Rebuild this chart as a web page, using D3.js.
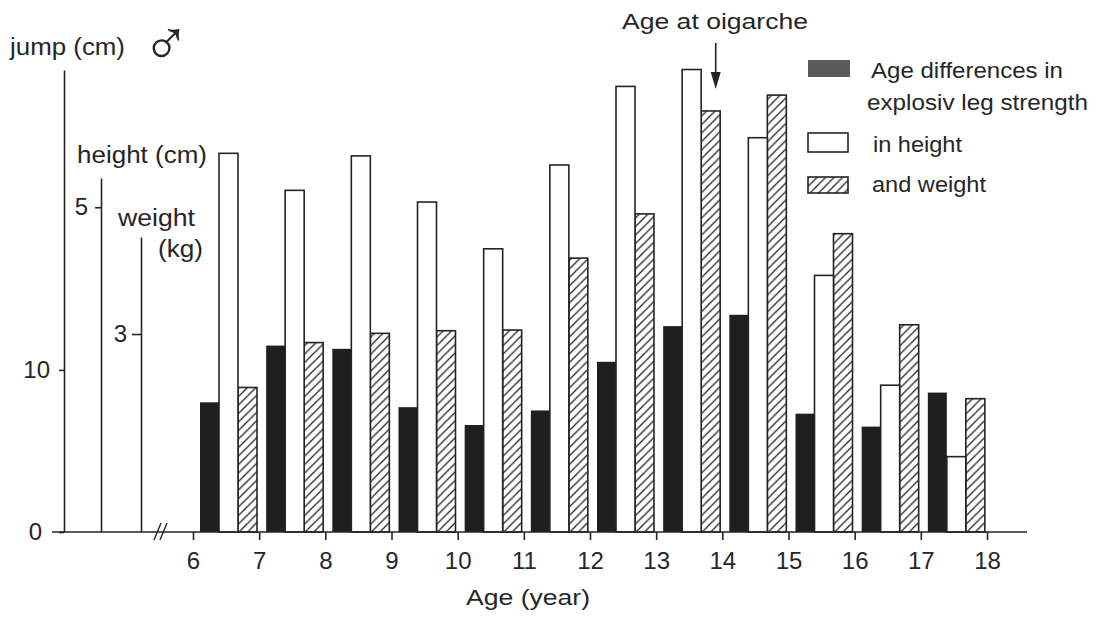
<!DOCTYPE html>
<html>
<head>
<meta charset="utf-8">
<script src="https://cdn.jsdelivr.net/npm/d3@7"></script>
<style>
  html, body { margin: 0; padding: 0; background: #ffffff; }
  svg { display: block; }
  text { font-family: "Liberation Sans", Arial, Helvetica, sans-serif; fill: #262626; }
</style>
</head>
<body>
<svg id="chart" width="1102" height="619"></svg>
<script>
// ---- Data ----
const ageStarts   = [6, 7, 8, 9, 10, 11, 12, 13, 14, 15, 16, 17];   // each bar group spans [age, age+1]
const ageTicks    = [6, 7, 8, 9, 10, 11, 12, 13, 14, 15, 16, 17, 18];
const jumpDiff    = [8.0, 11.5, 11.3, 7.7, 6.6, 7.5, 10.5, 12.7, 13.4, 7.3, 6.5, 8.6];      // cm
const heightDiff  = [5.83, 5.26, 5.79, 5.08, 4.36, 5.65, 6.86, 7.12, 6.07, 3.95, 2.26, 1.16]; // cm
const weightDiff  = [2.19, 2.87, 3.01, 3.05, 3.06, 4.15, 4.82, 6.38, 6.62, 4.52, 3.14, 2.02]; // kg
const jumpTicks   = [0, 10];
const heightTicks = [5];
const weightTicks = [3];
const seriesKeys  = ["jump", "height", "weight"];
const legendLabels = [["Age differences in", "explosiv leg strength"], ["in height"], ["and weight"]];
const oigarcheAge = 13.9;

// ---- Layout ----
const svg = d3.select("#chart");
const baseY = 532;
const ink = "#242424";

const x = d3.scaleLinear().domain([6, 18]).range([193, 987]);
const xSub = d3.scaleBand().domain(seriesKeys).range([7, 64]);

const yJump   = d3.scaleLinear().domain([0, 28.5]).range([baseY, 70]);
const yHeight = d3.scaleLinear().domain([0, 5.45]).range([baseY, 178]);
const yWeight = d3.scaleLinear().domain([0, 4.47]).range([baseY, 237]);
const yOf = { jump: yJump, height: yHeight, weight: yWeight };

// hatch pattern
const defs = svg.append("defs");
const pat = defs.append("pattern")
  .attr("id", "hatch").attr("patternUnits", "userSpaceOnUse")
  .attr("width", 8.5).attr("height", 8.5);
pat.append("rect").attr("width", 8.5).attr("height", 8.5).attr("fill", "#fff");
pat.append("path")
  .attr("d", "M-2,2 L2,-2 M0,8.5 L8.5,0 M6.5,10.5 L10.5,6.5")
  .attr("stroke", ink).attr("stroke-width", 1.3);

const fills = { jump: "#1f1f1f", height: "#ffffff", weight: "url(#hatch)" };

// ---- Bars ----
const rows = ageStarts.map((a, i) => ({ age: a, jump: jumpDiff[i], height: heightDiff[i], weight: weightDiff[i] }));
const groups = svg.append("g").selectAll("g").data(rows).join("g")
  .attr("transform", d => `translate(${x(d.age)},0)`);

["jump", "weight", "height"].forEach(k => {
  groups.append("rect")
    .attr("x", xSub(k))
    .attr("width", xSub.bandwidth())
    .attr("y", d => yOf[k](d[k]))
    .attr("height", d => baseY - yOf[k](d[k]))
    .attr("fill", fills[k])
    .attr("stroke", k === "jump" ? "none" : ink)
    .attr("stroke-width", 1.6);
});

// ---- Axes ----
function styleAxis(g) {
  g.attr("font-size", 24).attr("font-family", "Liberation Sans, Arial, sans-serif");
  g.selectAll("path,line").attr("stroke", ink).attr("stroke-width", 1.6);
  g.selectAll("text").attr("font-size", 24).attr("fill", "#262626");
}
const fmt = d3.format("d");

const jAxis = svg.append("g").attr("transform", "translate(64,0)")
  .call(d3.axisLeft(yJump).tickValues(jumpTicks).tickSize(5).tickSizeOuter(0).tickPadding(9).tickFormat(fmt))
  .call(styleAxis);
jAxis.selectAll(".tick text").filter(d => d === 0).attr("x", -22);

svg.append("g").attr("transform", "translate(101,0)")
  .call(d3.axisLeft(yHeight).tickValues(heightTicks).tickSize(6).tickSizeOuter(0).tickPadding(7).tickFormat(fmt))
  .call(styleAxis);

svg.append("g").attr("transform", "translate(141,0)")
  .call(d3.axisLeft(yWeight).tickValues(weightTicks).tickSize(9).tickSizeOuter(0).tickPadding(5).tickFormat(fmt))
  .call(styleAxis);

const xAxis = svg.append("g").attr("transform", `translate(0,${baseY})`)
  .call(d3.axisBottom(x).tickValues(ageTicks).tickSize(8).tickPadding(12).tickFormat(fmt))
  .call(styleAxis);
xAxis.select(".domain").remove();

// baseline with axis break
svg.append("line").attr("x1", 52).attr("x2", 1027).attr("y1", baseY).attr("y2", baseY)
  .attr("stroke", ink).attr("stroke-width", 1.6);
svg.append("path").attr("d", "M154,540 L161,523 M160,540 L167,523")
  .attr("stroke", ink).attr("stroke-width", 1.4).attr("fill", "none");

// ---- Axis titles ----
function label(txt, x0, y0, w, size) {
  return svg.append("text").attr("x", x0).attr("y", y0)
    .attr("font-size", size || 22)
    .attr("textLength", w).attr("lengthAdjust", "spacingAndGlyphs")
    .text(txt);
}
label("jump (cm)", 10, 55, 115, 23);
label("height (cm)", 77, 163, 130, 23);
label("weight", 118, 226, 77, 23);
label("(kg)", 158, 257, 45, 23);
label("Age (year)", 466, 605, 124, 22);

// male symbol
svg.append("text").attr("x", 142).attr("y", 65).attr("font-size", 64)
  .attr("font-weight", 200)
  .style("font-family", "DejaVu Sans, sans-serif").text("\u2642");

// ---- Annotation ----
label("Age at oigarche", 622, 29, 186, 22);
const ax = x(oigarcheAge);
svg.append("line").attr("x1", ax).attr("x2", ax).attr("y1", 43).attr("y2", 76)
  .attr("stroke", ink).attr("stroke-width", 1.6);
svg.append("path").attr("d", `M${ax - 5},72 L${ax + 5},72 L${ax},89 Z`).attr("fill", ink);

// ---- Legend ----
const legendFills = ["#5b5b5b", "#ffffff", "url(#hatch)"];
const legendSw = [[808, 60, 42, 17], [808, 133, 40, 19], [808, 177, 40, 16]];
legendSw.forEach((sw, i) => {
  svg.append("rect").attr("x", sw[0]).attr("y", sw[1]).attr("width", sw[2]).attr("height", sw[3])
    .attr("fill", legendFills[i]).attr("stroke", i === 0 ? "none" : ink).attr("stroke-width", 1.6);
});
label(legendLabels[0][0], 871, 78, 192, 22);
label(legendLabels[0][1], 867, 110, 221, 22);
label(legendLabels[1][0], 873, 152, 89, 22);
label(legendLabels[2][0], 872, 192, 114, 22);
</script>
</body>
</html>
